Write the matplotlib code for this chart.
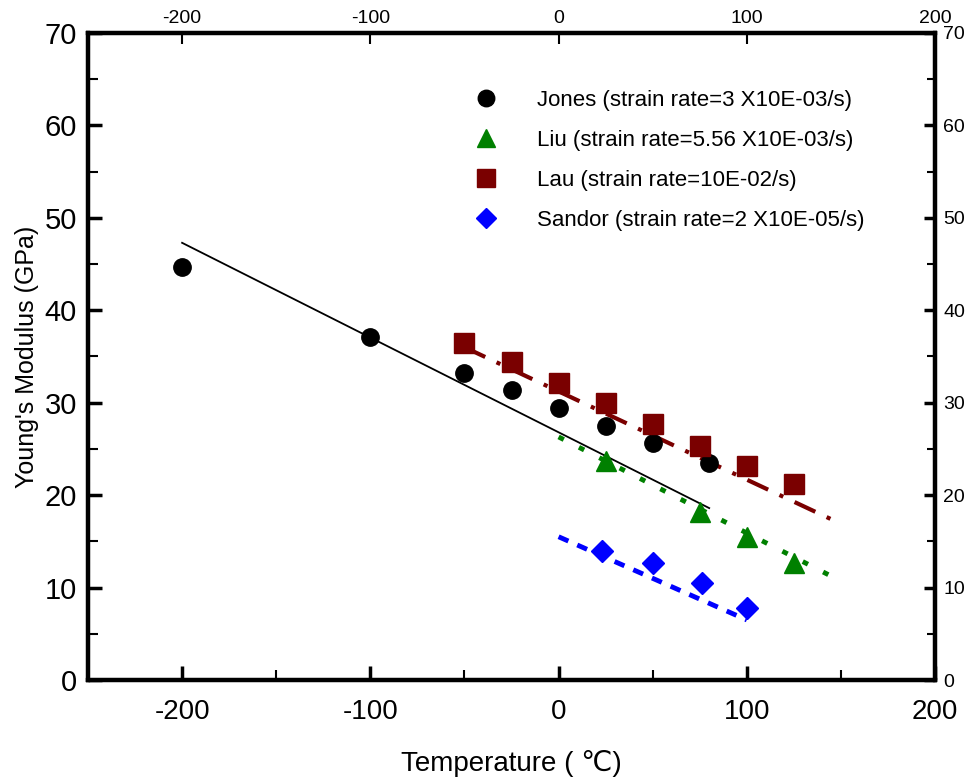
import matplotlib
matplotlib.use('Agg')
import matplotlib.pyplot as plt
from matplotlib.ticker import MultipleLocator, NullLocator

# 数据
jones_t = [-200, -100, -50, -25, 0, 25, 50, 80]
jones_e = [44.7, 37.1, 33.2, 31.4, 29.4, 27.5, 25.6, 23.5]
jones_fit_t = [-200, 80]
jones_fit_e = [47.3, 18.6]

liu_t = [25, 75, 100, 125]
liu_e = [23.7, 18.2, 15.5, 12.7]
liu_fit_t = [0, 150]
liu_fit_e = [26.3, 10.7]

lau_t = [-50, -25, 0, 25, 50, 75, 100, 125]
lau_e = [36.5, 34.4, 32.1, 30.0, 27.7, 25.3, 23.2, 21.2]
lau_fit_t = [-50, 150]
lau_fit_e = [36.0, 16.9]

sandor_t = [23, 50, 76, 100]
sandor_e = [14.0, 12.7, 10.5, 7.8]
sandor_fit_t = [0, 100]
sandor_fit_e = [15.5, 6.5]

labels = ['Jones (strain rate=3 X10E-03/s)',
          'Liu (strain rate=5.56 X10E-03/s)',
          'Lau (strain rate=10E-02/s)',
          'Sandor (strain rate=2 X10E-05/s)']

plt.rcParams['font.family'] = ['Liberation Sans', 'DejaVu Sans']
plt.rcParams['axes.unicode_minus'] = False

fig = plt.figure(figsize=(9.7, 7.8), dpi=100)
ax = fig.add_axes([0.0907, 0.1282, 0.8733, 0.8295])

# 拟合线
ax.plot(jones_fit_t, jones_fit_e, color='black', lw=1.3)
ax.plot(lau_fit_t, lau_fit_e, color='#7a0000', lw=3, dashes=(5.5, 3, 1, 3))
ax.plot(liu_fit_t, liu_fit_e, color='green', lw=3.5, dashes=(1.2, 3.5))
ax.plot(sandor_fit_t, sandor_fit_e, color='blue', lw=3.5, dashes=(2.2, 2.0))

# 数据点
h1, = ax.plot(jones_t, jones_e, 'o', color='black', ms=12.5, ls='none')
h2, = ax.plot(liu_t, liu_e, '^', color='green', ms=14, ls='none')
h3, = ax.plot(lau_t, lau_e, 's', color='#7a0000', ms=14, ls='none')
h4, = ax.plot(sandor_t, sandor_e, 'D', color='blue', ms=11, ls='none')

leg = ax.legend([h1, h2, h3, h4], labels, loc='upper left',
                bbox_to_anchor=(0.42, 0.943), frameon=False,
                fontsize=16, handletextpad=1.3, labelspacing=0.85,
                markerscale=0.95)

ax.set_xlim(-250, 200)
ax.set_ylim(0, 70)

ax.xaxis.set_major_locator(MultipleLocator(100))
ax.xaxis.set_minor_locator(MultipleLocator(50))
ax.yaxis.set_major_locator(MultipleLocator(10))
ax.yaxis.set_minor_locator(MultipleLocator(5))

for s in ax.spines.values():
    s.set_linewidth(3)

ax.tick_params(axis='both', which='both', top=False, right=False)
ax.tick_params(axis='both', which='major', direction='in', length=10, width=2.5)
ax.tick_params(axis='both', which='minor', direction='in', length=7, width=1.5)
ax.tick_params(axis='x', which='major', labelsize=20, pad=14)
ax.tick_params(axis='y', which='major', labelsize=21, pad=8)

# 上方与右方坐标轴
axt = ax.twiny()
axt.set_xlim(-250, 200)
axt.set_xticks([-200, -100, 0, 100, 200])
axt.xaxis.set_minor_locator(NullLocator())
axt.tick_params(axis='x', direction='in', length=8, width=1.5, labelsize=14, pad=4)
axr = ax.twinx()
axr.set_ylim(0, 70)
axr.yaxis.set_major_locator(MultipleLocator(10))
axr.yaxis.set_minor_locator(MultipleLocator(5))
axr.tick_params(axis='y', which='major', direction='in', length=8, width=2.5, labelsize=14, pad=6)
axr.tick_params(axis='y', which='minor', direction='in', length=6, width=1.5)
for a in (axt, axr):
    for s in a.spines.values():
        s.set_linewidth(3)

ax.set_xlabel('Temperature ( ℃)', fontsize=20, labelpad=18)
ax.set_ylabel("Young's Modulus (GPa)", fontsize=18, labelpad=4)

fig.savefig('out.png', dpi=100)
